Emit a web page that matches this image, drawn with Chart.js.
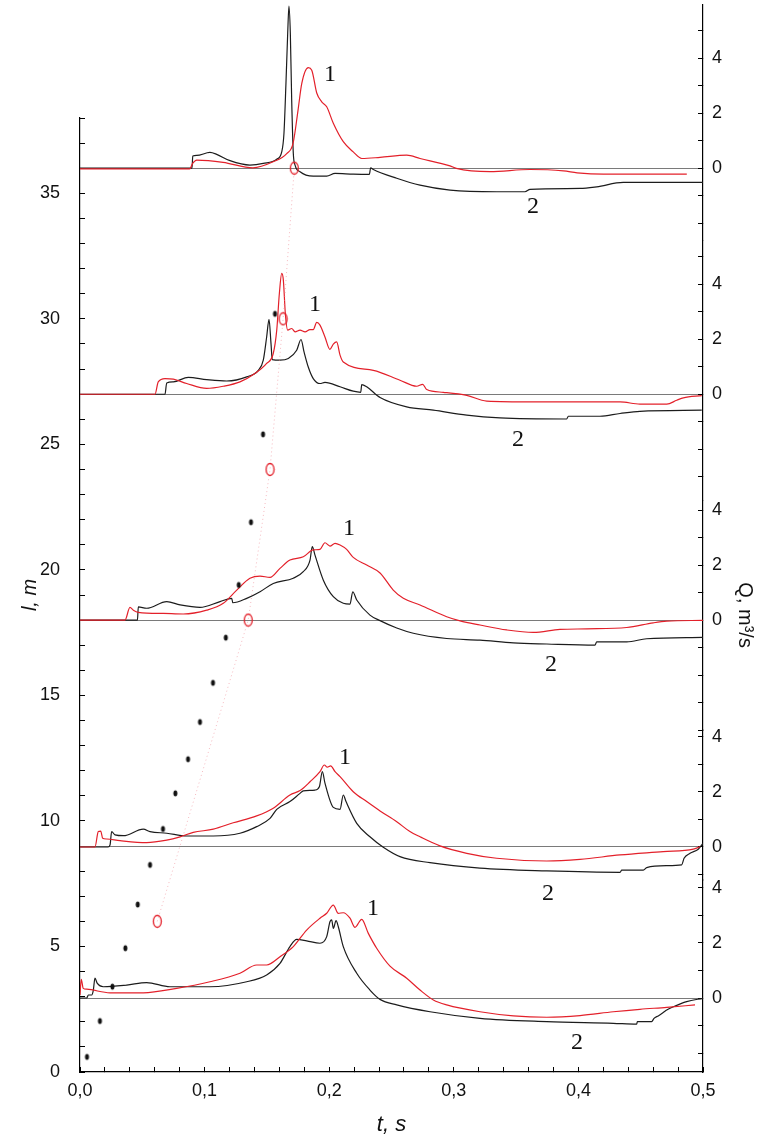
<!DOCTYPE html>
<html>
<head>
<meta charset="utf-8">
<script src="https://cdn.jsdelivr.net/npm/chart.js@4.4.1/dist/chart.umd.min.js"></script>
<style>
  * { margin: 0; padding: 0; box-sizing: border-box; }
  body { background: #fff; width: 779px; height: 1138px; overflow: hidden; }
  #wrap { position: relative; width: 779px; height: 1138px; }
</style>
</head>
<body>
<div id="wrap"><canvas id="chart"></canvas></div>
<script>
// front position l (m) against time, black dots and red rings
const dotTime = [0.0056, 0.016, 0.026, 0.0364, 0.0463, 0.0562, 0.0666, 0.0765, 0.0867, 0.0963, 0.1067, 0.117, 0.1274, 0.1372, 0.1469, 0.1565];
const dotLength = [0.60, 2.03, 3.40, 4.93, 6.67, 8.25, 9.68, 11.1, 12.46, 13.94, 15.5, 17.3, 19.4, 21.9, 25.4, 30.2];
const ringTime = [0.062, 0.135, 0.1525, 0.163, 0.172];
const ringLength = [6, 18, 24, 30, 36];

// flow curves Q per panel (top to bottom), [t, Q]; 1 = red, 2 = black
const panel1Red = [[0,-0.03],[0.088,-0.03],[0.0904,0.17],[0.0937,0.29],[0.1148,0.21],[0.1388,0.01],[0.155,0.23],[0.1659,0.53],[0.171,0.9],[0.175,2.11],[0.178,3.08],[0.1832,3.65],[0.186,3.56],[0.19,2.73],[0.194,2.41],[0.198,2.23],[0.2033,1.63],[0.2113,0.96],[0.2193,0.59],[0.2261,0.35],[0.2408,0.39],[0.2622,0.47],[0.2729,0.35],[0.297,0.08],[0.302,-0.01],[0.329,-0.13],[0.361,-0.05],[0.388,-0.1],[0.399,-0.17],[0.42,-0.22],[0.487,-0.22]];
const panel1Black = [[0,0],[0.0899,0],[0.0905,0.44],[0.0937,0.46],[0.1043,0.57],[0.1097,0.5],[0.1204,0.27],[0.1364,0.11],[0.1471,0.17],[0.1579,0.32],[0.1619,0.59],[0.1637,1.27],[0.1653,3.09],[0.1667,4.91],[0.1677,5.89],[0.1688,4.91],[0.1699,2.47],[0.1712,0.53],[0.1726,0.11],[0.1766,-0.13],[0.1872,-0.29],[0.198,-0.29],[0.2047,-0.19],[0.2193,-0.22],[0.2322,-0.23],[0.2333,0.01],[0.2354,-0.05],[0.2542,-0.37],[0.2729,-0.62],[0.297,-0.8],[0.3344,-0.86],[0.3571,-0.86],[0.3612,-0.77],[0.4013,-0.74],[0.4147,-0.68],[0.436,-0.52],[0.5,-0.52]];
const panel2Red = [[0,0],[0.0602,0],[0.0628,0.45],[0.0682,0.57],[0.0749,0.55],[0.0856,0.39],[0.1017,0.21],[0.115,0.29],[0.1284,0.45],[0.1404,0.75],[0.1498,1.12],[0.1551,1.48],[0.1579,2.33],[0.16,3.66],[0.1619,4.39],[0.1632,4.15],[0.1648,2.93],[0.1667,2.33],[0.1699,2.39],[0.1726,2.27],[0.1766,2.33],[0.1806,2.27],[0.1846,2.35],[0.1872,2.35],[0.19,2.61],[0.1926,2.51],[0.1966,2.08],[0.2006,1.63],[0.2033,1.82],[0.206,1.9],[0.2087,1.42],[0.2113,1.17],[0.2354,0.87],[0.2568,0.51],[0.2702,0.29],[0.275,0.36],[0.2783,0.17],[0.2916,0.07],[0.3104,-0.04],[0.3264,-0.25],[0.3638,-0.28],[0.4334,-0.28],[0.4494,-0.36],[0.4709,-0.36],[0.4789,-0.22],[0.4842,-0.13],[0.499,-0.05]];
const panel2Black = [[0,0],[0.0682,0],[0.0696,0.41],[0.0749,0.45],[0.0869,0.61],[0.1017,0.53],[0.1177,0.48],[0.1338,0.63],[0.1431,0.87],[0.1471,1.24],[0.1498,2.08],[0.1517,2.72],[0.1533,1.84],[0.1543,1.26],[0.1605,1.24],[0.1672,1.3],[0.1739,1.6],[0.1774,1.99],[0.1798,1.54],[0.1832,0.99],[0.1872,0.57],[0.1926,0.39],[0.1966,0.43],[0.2087,0.27],[0.2193,0.11],[0.2253,0.07],[0.2261,0.35],[0.2301,0.27],[0.2408,-0.12],[0.2622,-0.46],[0.2836,-0.58],[0.3104,-0.76],[0.3371,-0.86],[0.3906,-0.9],[0.3919,-0.8],[0.4173,-0.8],[0.4334,-0.7],[0.4494,-0.62],[0.499,-0.58]];
const panel3Red = [[0,0],[0.0361,0],[0.0401,0.46],[0.0428,0.36],[0.0468,0.28],[0.0669,0.24],[0.0829,0.22],[0.1017,0.36],[0.115,0.61],[0.1258,1.09],[0.1364,1.52],[0.1445,1.6],[0.1525,1.55],[0.1605,1.88],[0.1685,2.18],[0.1792,2.3],[0.1872,2.55],[0.1926,2.57],[0.1966,2.81],[0.2006,2.69],[0.2047,2.79],[0.2087,2.73],[0.214,2.57],[0.2193,2.28],[0.2301,2.0],[0.2408,1.71],[0.2514,1.09],[0.2595,0.79],[0.2729,0.55],[0.2943,0.12],[0.305,-0.03],[0.321,-0.18],[0.3425,-0.36],[0.3638,-0.45],[0.3852,-0.34],[0.4067,-0.32],[0.4388,-0.27],[0.4601,-0.1],[0.4709,-0.04],[0.5,-0.01]];
const panel3Black = [[0,0],[0.0461,0],[0.0468,0.48],[0.0535,0.43],[0.0696,0.67],[0.0803,0.55],[0.0963,0.46],[0.1124,0.67],[0.1218,0.79],[0.1226,0.63],[0.1338,0.79],[0.1445,1.03],[0.1551,1.33],[0.1712,1.52],[0.1792,1.76],[0.1846,2.18],[0.1864,2.67],[0.1886,2.36],[0.1953,1.45],[0.2033,0.85],[0.2113,0.61],[0.2167,0.58],[0.2189,1.03],[0.2221,0.73],[0.2327,0.18],[0.2408,-0.02],[0.2542,-0.29],[0.2675,-0.48],[0.2943,-0.67],[0.321,-0.73],[0.3478,-0.83],[0.3746,-0.87],[0.4133,-0.91],[0.4147,-0.79],[0.4388,-0.79],[0.4548,-0.68],[0.5,-0.63]];
const panel4Red = [[0,0],[0.012,0],[0.0147,0.56],[0.0166,0.58],[0.0182,0.32],[0.0214,0.29],[0.0321,0.23],[0.0535,0.16],[0.0696,0.25],[0.0803,0.37],[0.0909,0.53],[0.107,0.65],[0.123,0.88],[0.1418,1.13],[0.1551,1.41],[0.1685,1.89],[0.1766,2.05],[0.1846,2.37],[0.1926,2.74],[0.1961,2.98],[0.1985,2.9],[0.2012,2.95],[0.2047,2.74],[0.2087,2.56],[0.2193,2.01],[0.2301,1.65],[0.2408,1.31],[0.2542,0.92],[0.2648,0.56],[0.2729,0.37],[0.2889,0.04],[0.3104,-0.23],[0.3344,-0.41],[0.3746,-0.51],[0.4013,-0.45],[0.4334,-0.29],[0.4681,-0.17],[0.4922,-0.08],[0.4976,0.01]];
const panel4Black = [[0,0],[0.0225,0],[0.0241,0.07],[0.0254,0.56],[0.0281,0.44],[0.0348,0.41],[0.0508,0.65],[0.0562,0.56],[0.0696,0.5],[0.0856,0.4],[0.107,0.4],[0.1284,0.5],[0.1418,0.74],[0.1525,1.04],[0.1579,1.37],[0.1685,1.65],[0.1766,1.95],[0.1792,2.04],[0.1886,2.07],[0.1921,2.19],[0.1945,2.74],[0.1966,2.32],[0.2033,1.44],[0.2087,1.37],[0.2113,1.89],[0.2135,1.65],[0.2221,0.86],[0.2327,0.37],[0.2434,-0.01],[0.2568,-0.35],[0.2809,-0.57],[0.321,-0.77],[0.3746,-0.87],[0.4334,-0.92],[0.4348,-0.84],[0.4521,-0.84],[0.4548,-0.75],[0.4709,-0.68],[0.4829,-0.65],[0.4848,-0.41],[0.4896,-0.23],[0.4962,-0.08],[0.5,0.13]];
const panel5Red = [[0,0.11],[0.001,0.68],[0.0026,0.35],[0.0054,0.32],[0.0241,0.19],[0.0508,0.19],[0.0776,0.35],[0.1043,0.59],[0.1284,0.9],[0.1418,1.2],[0.1498,1.2],[0.1605,1.5],[0.1712,1.87],[0.1819,2.47],[0.1926,2.9],[0.198,3.08],[0.2033,3.38],[0.2073,3.08],[0.2113,3.1],[0.2167,2.9],[0.2207,2.57],[0.2261,2.86],[0.2314,2.35],[0.2381,1.81],[0.2488,1.16],[0.2622,0.72],[0.2729,0.29],[0.2836,-0.07],[0.2943,-0.25],[0.321,-0.5],[0.3478,-0.65],[0.3746,-0.7],[0.4013,-0.64],[0.428,-0.5],[0.4494,-0.41],[0.4709,-0.34],[0.4936,-0.25]];
const panel5Black = [[0,0],[0.0054,0],[0.0067,0.11],[0.0094,0.11],[0.0107,0.29],[0.012,0.72],[0.0139,0.53],[0.0187,0.41],[0.0375,0.47],[0.0535,0.56],[0.0722,0.41],[0.1043,0.41],[0.1338,0.59],[0.1498,0.84],[0.1605,1.26],[0.1685,1.87],[0.1739,2.13],[0.1819,2.08],[0.1926,1.99],[0.198,2.23],[0.2006,2.77],[0.202,2.84],[0.2033,2.53],[0.2055,2.81],[0.2073,2.59],[0.2113,1.87],[0.2221,0.9],[0.2327,0.29],[0.2408,-0.05],[0.2542,-0.25],[0.2809,-0.5],[0.321,-0.74],[0.3746,-0.86],[0.428,-0.92],[0.4468,-0.95],[0.4473,-0.86],[0.4588,-0.86],[0.4607,-0.74],[0.4641,-0.65],[0.4681,-0.53],[0.4709,-0.44],[0.4762,-0.32],[0.4869,-0.13],[0.5,-0.01]];

// curve numbers written next to the curves (panel index, t, Q)
const labelText = ['1', '2', '1', '2', '1', '2', '1', '2', '1', '2'];
const labelPanel = [0, 0, 1, 1, 2, 2, 3, 3, 4, 4];
const labelTime = [0.2006, 0.3636, 0.1886, 0.3515, 0.2159, 0.378, 0.2127, 0.3756, 0.2352, 0.3989];
const labelValue = [3.38, -1.42, 3.27, -1.64, 3.31, -1.64, 3.24, -1.71, 3.24, -1.64];

// ranges of the five stacked Q axes on the right
const panelMin = [-2.62, -3.85, -4.0, -1.2, -2.69];
const panelMax = [5.93, 5.6, 4.36, 4.25, 4.29];
const panelLabels = [0, 2, 4];

const redCurves = [panel1Red, panel2Red, panel3Red, panel4Red, panel5Red];
const blackCurves = [panel1Black, panel2Black, panel3Black, panel4Black, panel5Black];

const RED = '#e3202a';
const INK = '#1c1c1c';
const TICK_FONT = { family: '"Liberation Sans", Arial, sans-serif', size: 18 };

function ellipseMarker(w, h, fill, stroke) {
  const c = document.createElement('canvas');
  c.width = w + 3; c.height = h + 3;
  const g = c.getContext('2d');
  g.beginPath();
  g.ellipse(c.width / 2, c.height / 2, w / 2, h / 2, 0, 0, Math.PI * 2);
  if (fill) { g.fillStyle = fill; g.fill(); }
  if (stroke) { g.strokeStyle = stroke; g.lineWidth = 1.3; g.stroke(); }
  return c;
}

const toXY = pts => pts.map(p => ({ x: p[0], y: p[1] }));

// vertical axes: no overflow padding so the plot spans the whole height
const noVertPad = w => s => { s.width = w; s.paddingTop = 0; s.paddingBottom = 0; };

const datasets = [
  {
    data: dotTime.map((t, i) => ({ x: t, y: dotLength[i] })),
    yAxisID: 'y', showLine: false,
    pointStyle: ellipseMarker(4, 6, '#111', null), pointRadius: 3
  },
  {
    data: ringTime.map((t, i) => ({ x: t, y: ringLength[i] })),
    yAxisID: 'y', showLine: true,
    borderColor: 'rgba(236,130,140,0.55)', borderWidth: 1, borderDash: [1, 3],
    pointStyle: ellipseMarker(8, 12, null, RED), pointRadius: 4
  }
];
redCurves.forEach((c, i) => datasets.push({
  data: toXY(c), yAxisID: 'p' + (i + 1), borderColor: RED, borderWidth: 1.2,
  pointRadius: 0, cubicInterpolationMode: 'monotone'
}));
blackCurves.forEach((c, i) => datasets.push({
  data: toXY(c), yAxisID: 'p' + (i + 1), borderColor: INK, borderWidth: 1.2,
  pointRadius: 0, cubicInterpolationMode: 'monotone'
}));

const scales = {
  x: {
    type: 'linear', position: 'bottom', min: 0, max: 0.5,
    afterBuildTicks: s => { s.ticks = Array.from({ length: 26 }, (_, i) => ({ value: i / 50 })); },
    afterFit: s => { s.height = 66; s.paddingLeft = 0; s.paddingRight = 0; },
    ticks: {
      autoSkip: false, maxRotation: 0, padding: 13, color: '#111', font: TICK_FONT,
      callback: v => (Math.abs(v * 10 - Math.round(v * 10)) < 1e-6) ? v.toFixed(1).replace('.', ',') : ''
    },
    grid: { drawOnChartArea: false, tickLength: -5, tickColor: '#000' },
    border: { color: '#000', width: 1.2 },
    title: { display: true, text: 't, s', color: '#111', padding: { top: 2, bottom: 0 },
      font: { family: '"Liberation Sans", Arial, sans-serif', size: 22, style: 'italic' } }
  },
  y: {
    type: 'linear', position: 'left', stack: 'left', stackWeight: 954, min: 0, max: 38,
    afterBuildTicks: s => { s.ticks = Array.from({ length: 39 }, (_, i) => ({ value: i })); },
    afterFit: noVertPad(80),
    ticks: {
      autoSkip: false, padding: 25, color: '#111', font: TICK_FONT,
      callback: v => v % 5 === 0 ? String(v) : ''
    },
    grid: { drawOnChartArea: false, tickLength: -5, tickColor: '#000' },
    border: { color: '#000', width: 1.2 },
    title: { display: true, text: 'l, m', color: '#111', padding: { top: 18, bottom: 0 },
      font: { family: '"Liberation Sans", Arial, sans-serif', size: 20, style: 'italic' } }
  },
  ySpacer: {
    type: 'linear', position: 'left', stack: 'left', stackWeight: 113,
    afterFit: noVertPad(80),
    ticks: { display: false }, grid: { display: false }, border: { display: false }
  }
};
panelMin.forEach((mn, i) => {
  const mx = panelMax[i];
  scales['p' + (i + 1)] = {
    type: 'linear', position: 'right', stack: 'right', stackWeight: mx - mn, min: mn, max: mx,
    afterBuildTicks: s => {
      const t = [];
      for (let v = Math.ceil(mn); v <= Math.floor(mx); v++) t.push({ value: v });
      s.ticks = t;
    },
    afterFit: noVertPad(76),
    ticks: {
      autoSkip: false, padding: 14, color: '#111', font: TICK_FONT, crossAlign: 'center',
      callback: v => panelLabels.includes(v) ? String(v) : ''
    },
    grid: {
      tickLength: -5, tickColor: '#000', lineWidth: 1,
      color: ctx => (ctx.tick && ctx.tick.value === 0) ? '#7a7a7a' : 'rgba(0,0,0,0)'
    },
    border: { color: '#000', width: 1.2 },
    title: { display: i === 2, text: 'Q, m³/s', color: '#111', padding: { top: 22, bottom: 0 },
      font: { family: '"Liberation Sans", Arial, sans-serif', size: 20 } }
  };
});

const curveLabels = {
  id: 'curveLabels',
  afterDatasetsDraw(chart) {
    const ctx = chart.ctx;
    const xs = chart.scales.x;
    ctx.save();
    ctx.font = '24px "Liberation Serif", "Times New Roman", serif';
    ctx.fillStyle = '#111';
    ctx.textAlign = 'center';
    ctx.textBaseline = 'middle';
    labelText.forEach((txt, i) => {
      const ys = chart.scales['p' + (labelPanel[i] + 1)];
      ctx.fillText(txt, xs.getPixelForValue(labelTime[i]), ys.getPixelForValue(labelValue[i]));
    });
    ctx.restore();
  }
};

new Chart(document.getElementById('chart'), {
  type: 'line',
  data: { datasets },
  options: {
    responsive: true, maintainAspectRatio: false, animation: false,
    layout: { padding: { top: 5, left: 0, right: 0, bottom: 0 } },
    plugins: { legend: { display: false }, tooltip: { enabled: false } },
    elements: { line: { fill: false } },
    scales
  },
  plugins: [curveLabels]
});
</script>
</body>
</html>
